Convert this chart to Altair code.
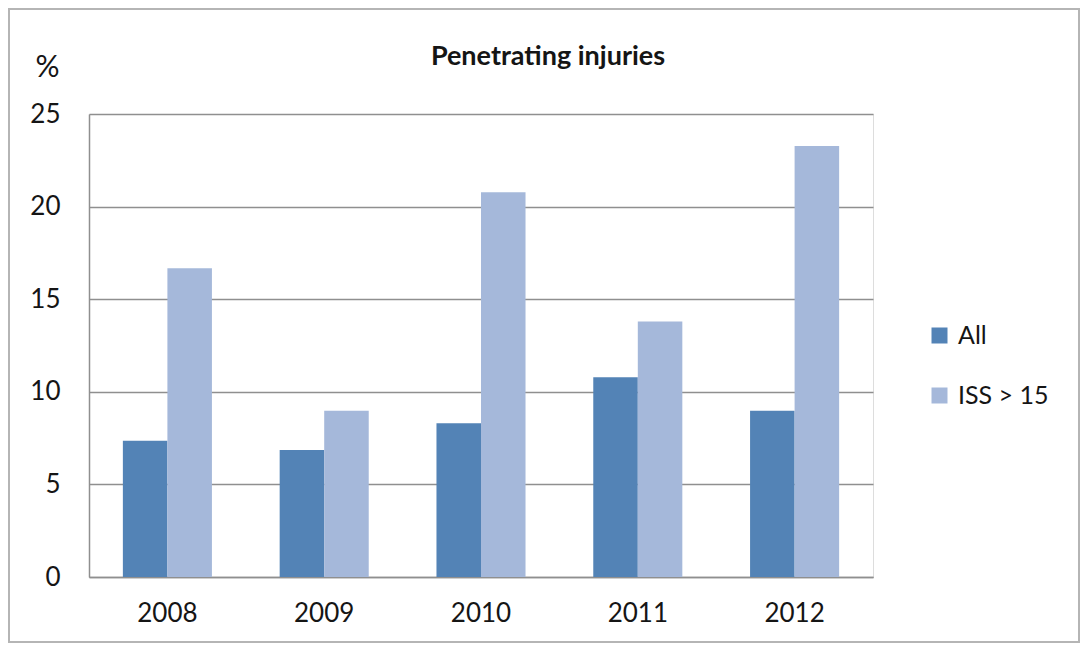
import altair as alt
import pandas as pd

years = ["2008", "2009", "2010", "2011", "2012"]
series = ["All", "ISS > 15"]
all_vals = [7.36, 6.86, 8.30, 10.78, 8.98]
iss_vals = [16.67, 8.98, 20.77, 13.79, 23.27]
colors = ["#5383b6", "#a5b8da"]
y_ticks = [0, 5, 10, 15, 20, 25]

rows = []
for i, yr in enumerate(years):
    rows.append({"year": yr, "series": series[0], "value": all_vals[i]})
    rows.append({"year": yr, "series": series[1], "value": iss_vals[i]})
df = pd.DataFrame(rows)

FONT = "Lato"
GRID = "#8f8f8f"
TXT = "#151515"

bars = alt.Chart(df).mark_bar().encode(
    x=alt.X("year:N", sort=years,
            scale=alt.Scale(paddingInner=0.432, paddingOuter=0.216),
            axis=alt.Axis(title=None, labelAngle=0, labelFontSize=26, labelFont=FONT,
                          labelColor=TXT, labelPadding=23, ticks=False,
                          domainColor=GRID, domainWidth=1.5)),
    xOffset=alt.XOffset("series:N", sort=series,
                        scale=alt.Scale(paddingInner=0, paddingOuter=0)),
    y=alt.Y("value:Q", scale=alt.Scale(domain=[0, 25], nice=False),
            axis=alt.Axis(values=y_ticks, title="%", titleAngle=0, titleX=-42, titleY=-47,
                          titleAlign="center", titleBaseline="middle",
                          titleFontSize=30, titleFontWeight="normal", titleFont=FONT,
                          titleColor=TXT,
                          labelFontSize=26, labelFont=FONT, labelColor=TXT,
                          labelPadding=29, ticks=False, grid=True, gridColor=GRID,
                          gridWidth=1.5, domainColor=GRID, domainWidth=1.5)),
    color=alt.Color("series:N", sort=series,
                    scale=alt.Scale(domain=series, range=colors),
                    legend=alt.Legend(title=None, orient="none", legendX=838, legendY=209,
                                      symbolType="square", symbolSize=256,
                                      symbolStrokeWidth=0, labelFontSize=25,
                                      labelFont=FONT, labelColor=TXT,
                                      labelOffset=6, rowPadding=34, padding=0)),
)

frame = alt.Chart(alt.Data(values=[{}])).mark_rect(
    fill=None, stroke="#b5b5b5", strokeWidth=2
).encode(
    x=alt.value(-80), x2=alt.value(990), y=alt.value(-105), y2=alt.value(528)
)

chart = alt.layer(frame, bars).properties(
    width=784, height=463,
    title=alt.TitleParams("Penetrating injuries", fontSize=27, fontWeight="bold",
                          font=FONT, color=TXT, anchor="middle", dx=67, dy=67),
    autosize=alt.AutoSizeParams(type="none"),
    padding={"left": 81, "top": 106, "right": 209, "bottom": 68},
).configure_view(stroke=None).configure(background="white")

chart.save("out.html", embed_options={"renderer": "svg", "actions": False})
